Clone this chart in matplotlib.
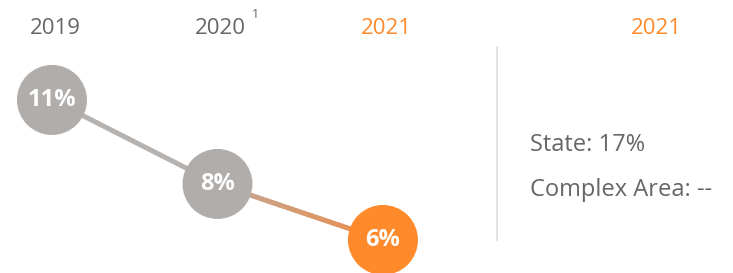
import matplotlib
matplotlib.use("Agg")
import matplotlib.pyplot as plt
import numpy as np
from matplotlib.collections import LineCollection
from matplotlib.colors import to_rgb

plt.rcParams["font.family"] = ["Open Sans", "DejaVu Sans"]

# ── data ─────────────────────────────────────────────────────────────────────
years = ["2019", "2020", "2021"]
footnotes = ["", "1", ""]
rates = [11, 8, 6]
state_rate = "17%"
complex_area_rate = "--"

GRAY = "#b0adab"
ORANGE = "#ff8a2b"
TEXT = "#666666"

fig = plt.figure(figsize=(7.33, 2.73), dpi=100)
ax = fig.add_axes([0, 0, 1, 1])
ax.set_xlim(-0.314, 4.115)
ax.set_ylim(4.82, 14.57)
ax.axis("off")

xs = np.arange(len(years))

# first segment plain gray
ax.plot(xs[:2], rates[:2], color="#b5b2b0", lw=3.6, solid_capstyle="butt", zorder=1)

# second segment fades gray -> orange
n = 40
sx = np.linspace(xs[1], xs[2], n + 1)
sy = np.linspace(rates[1], rates[2], n + 1)
segs = np.stack([np.column_stack([sx[:-1], sy[:-1]]),
                 np.column_stack([sx[1:], sy[1:]])], axis=1)
c0, c1 = np.array(to_rgb("#c2a797")), np.array(to_rgb("#eb8f4a"))
cols = [c0 + (c1 - c0) * t for t in np.linspace(0, 1, n)]
ax.add_collection(LineCollection(segs, colors=cols, linewidths=3.6,
                                 capstyle="round", zorder=1))

colors = [GRAY, GRAY, ORANGE]
ax.scatter(xs, rates, s=2540, c=colors, edgecolors="none", zorder=2)
for x, r in zip(xs, rates):
    ax.text(x, r, f"{r}%", ha="center", va="center", color="white",
            fontsize=17, fontweight="bold", zorder=3)

tr = ax.get_xaxis_transform()
for x, y, fn, c in zip(xs, years, footnotes, [TEXT, TEXT, ORANGE]):
    ax.text(x + 0.018, 0.897, y, transform=tr, ha="center", va="center",
            color=c, fontsize=16)
    if fn:
        ax.annotate(fn, (x + 0.018, 0.897), xycoords=tr, xytext=(25, 10),
                    textcoords="offset points", ha="center", va="center",
                    color=TEXT, fontsize=9)

# right panel
fig.add_artist(plt.Line2D([0.678, 0.678], [0.121, 0.828], color="#dddddd", lw=1.2))
fig.text(0.896, 0.897, years[-1], ha="center", va="center", color=ORANGE, fontsize=16)
fig.text(0.723, 0.469, f"State: {state_rate}", ha="left", va="center", color=TEXT, fontsize=17)
fig.text(0.723, 0.304, f"Complex Area: {complex_area_rate}", ha="left", va="center",
         color=TEXT, fontsize=17)

fig.savefig("out.png", dpi=100)
